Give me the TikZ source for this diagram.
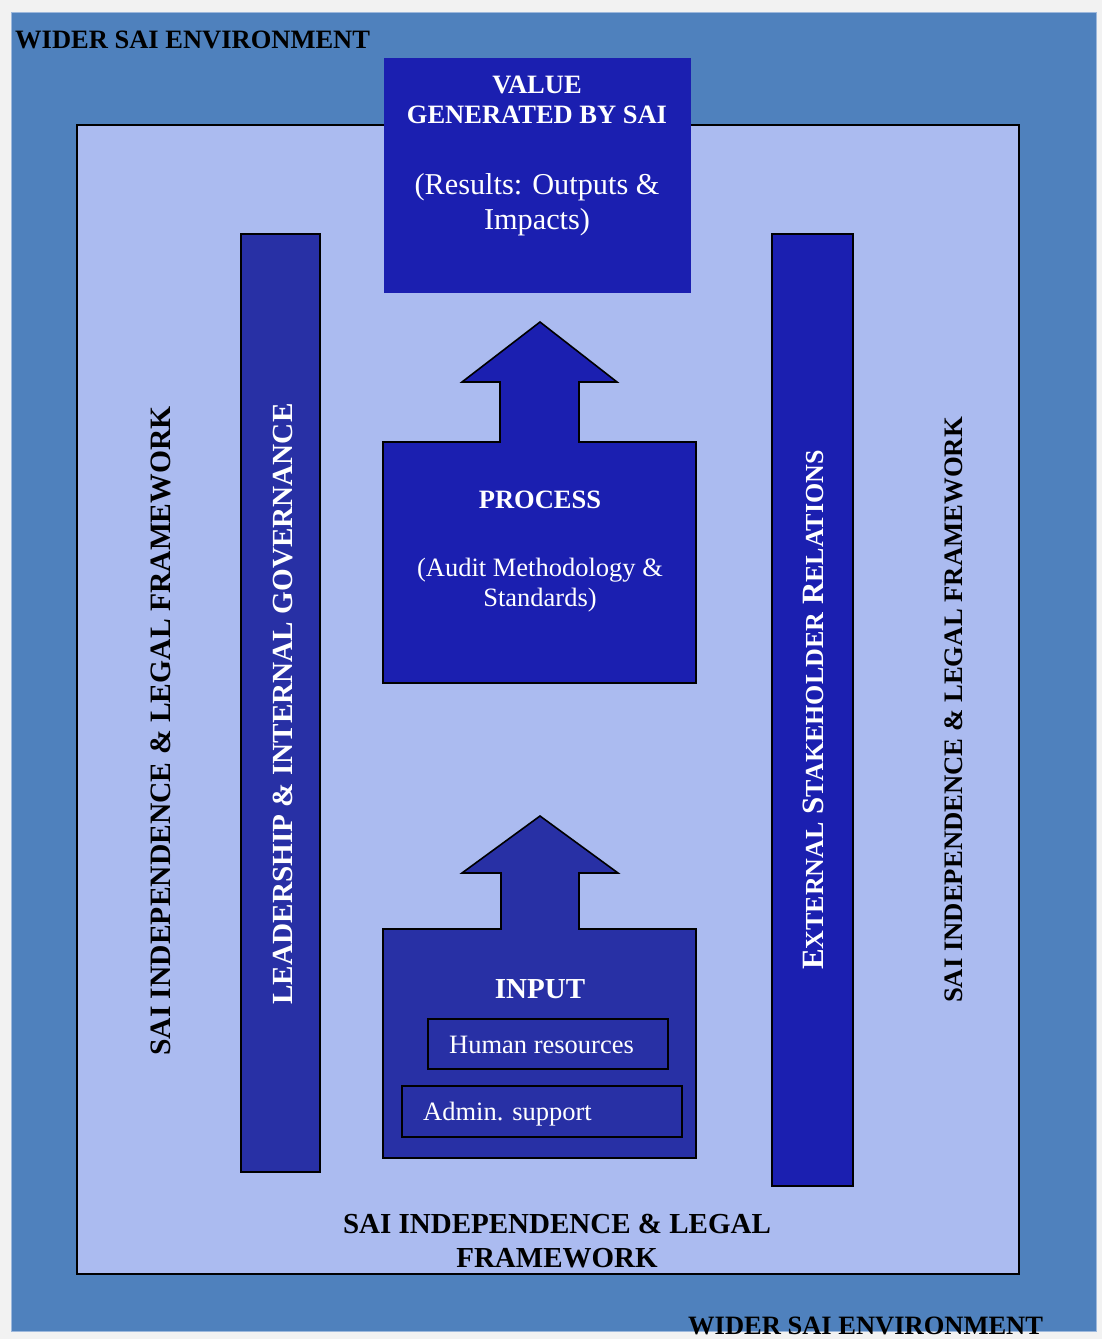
\documentclass[tikz,border=0pt]{standalone}
\usepackage{fontspec}
\setmainfont{Liberation Serif}
\definecolor{pagegray}{HTML}{F2F2F2}
\definecolor{envblue}{HTML}{4F81BD}
\definecolor{envedge}{HTML}{9DB8DC}
\definecolor{framefill}{HTML}{ABBBF0}
\definecolor{deepblue}{HTML}{1B1FB0}
\definecolor{midblue}{HTML}{2830A5}
\newcommand{\smallcapsize}[1]{{\fontsize{26}{29}\selectfont #1}}
\begin{document}
\begin{tikzpicture}[x=1pt,y=-1pt,
  outline/.style={draw=black,line width=1.6pt,line join=miter},
  heading/.style={font=\fontsize{26.5}{30}\selectfont\bfseries,inner sep=0pt},
  bigheading/.style={font=\fontsize{29}{33}\selectfont\bfseries,inner sep=0pt},
  bodytext/.style={font=\fontsize{26.5}{30}\selectfont,inner sep=0pt,text=white},
  bigbody/.style={font=\fontsize{30.3}{34}\selectfont,inner sep=0pt,text=white}]

\useasboundingbox (0,0) rectangle (1102,1339);
\clip (0,0) rectangle (1102,1339);
\fill[pagegray] (0,0) rectangle (1102,1339);

% wider environment and the legal framework frame
\fill[envblue] (11,12) rectangle (1096,1331);
\draw[envedge,line width=0.8pt] (11,12) rectangle (1096,1331);
\draw[outline,fill=framefill] (77,125) rectangle (1019,1274);

% value box
\fill[deepblue] (384,58) rectangle (691,293);

% process block with its arrow
\draw[outline,fill=deepblue] (383,683) -- (383,442) -- (500,442) -- (500,382)
  -- (462,382) -- (540,322) -- (617,382) -- (579,382) -- (579,442)
  -- (696,442) -- (696,683) -- cycle;

% input block with its arrow
\draw[outline,fill=midblue] (383,1158) -- (383,929) -- (501,929) -- (501,873)
  -- (462,873) -- (540,816) -- (618,873) -- (579,873) -- (579,929)
  -- (696,929) -- (696,1158) -- cycle;
\draw[outline] (428,1019) rectangle (668,1069);
\draw[outline] (402,1086) rectangle (682,1137);

% side bars
\draw[outline,fill=midblue] (241,234) rectangle (320,1172);
\draw[outline,fill=deepblue] (772,234) rectangle (853,1186);

% texts
\node[heading,anchor=base west] (envtop) at (15,48) {WIDER SAI ENVIRONMENT};
\node[heading,anchor=base west] (envbottom) at (688,1334) {WIDER SAI ENVIRONMENT};

\node[heading,text=white,anchor=base] (valueA) at (537,93) {VALUE};
\node[heading,text=white,anchor=base] (valueB) at (537,123) {GENERATED BY SAI};
\node[bigbody,anchor=base] (valueC) at (537,194) {(Results: Outputs \&};
\node[bigbody,anchor=base] (valueD) at (537,229) {Impacts)};

\node[heading,text=white,anchor=base] (procA) at (540,508) {PROCESS};
\node[bodytext,anchor=base] (procB) at (540,576) {(Audit Methodology \&};
\node[bodytext,anchor=base] (procC) at (540,606) {Standards)};

\node[bigheading,text=white,anchor=base] (inputA) at (540,998) {INPUT};
\node[bodytext,anchor=base west] (inputB) at (449,1053) {Human resources};
\node[bodytext,anchor=base west] (inputC) at (423,1120) {Admin. support};

\node[bigheading,anchor=base] (frameA) at (557,1233) {SAI INDEPENDENCE \& LEGAL};
\node[bigheading,anchor=base] (frameB) at (557,1267) {FRAMEWORK};

\node[font=\fontsize{29.6}{34}\selectfont\bfseries,inner sep=0pt,anchor=base,rotate=90]
  (frameLeft) at (170,731) {SAI INDEPENDENCE \& LEGAL FRAMEWORK};
\node[font=\fontsize{26.7}{31}\selectfont\bfseries,inner sep=0pt,anchor=base,rotate=90]
  (frameRight) at (962,710) {SAI INDEPENDENCE \& LEGAL FRAMEWORK};
\node[font=\fontsize{29.2}{33}\selectfont\bfseries,inner sep=0pt,text=white,anchor=base,rotate=90]
  (leadership) at (292,704) {LEADERSHIP \& INTERNAL GOVERNANCE};
\node[font=\fontsize{31}{35}\selectfont\bfseries,inner sep=0pt,text=white,anchor=base,rotate=90]
  (external) at (823,710) {E\smallcapsize{XTERNAL} S\smallcapsize{TAKEHOLDER} R\smallcapsize{ELATIONS}};
\end{tikzpicture}
\end{document}
